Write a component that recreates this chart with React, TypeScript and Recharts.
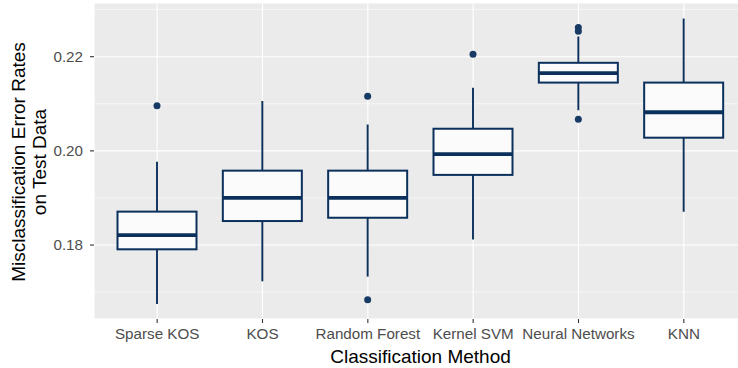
import React from 'react'
import { ComposedChart, Bar, XAxis, YAxis, CartesianGrid } from 'recharts'

// Box plot stats
const methods = ['Sparse KOS', 'KOS', 'Random Forest', 'Kernel SVM', 'Neural Networks', 'KNN']
const whiskerLow = [0.1675, 0.1723, 0.1733, 0.1812, 0.2086, 0.1871]
const q1 = [0.1791, 0.1851, 0.1858, 0.1949, 0.2145, 0.2028]
const median = [0.1821, 0.19, 0.19, 0.1993, 0.2165, 0.2082]
const q3 = [0.1871, 0.1958, 0.1958, 0.2047, 0.2187, 0.2145]
const whiskerHigh = [0.1977, 0.2106, 0.2056, 0.2134, 0.2243, 0.2281]
const outliers = [[0.2096], [], [0.2116, 0.1684], [0.2205], [0.2262, 0.2254, 0.2067], []]

const yTicks = [0.18, 0.2, 0.22]
const yMinor = [0.17, 0.19, 0.21, 0.23]

const LINE = '#0B305C'
const POINT = '#173B65'
const FONT = '"Liberation Sans", Arial, sans-serif'

const rows = methods.map((name, i) => ({
  name,
  lo: whiskerLow[i],
  q1: q1[i],
  med: median[i],
  q3: q3[i],
  hi: whiskerHigh[i],
  out: outliers[i],
}))

// draws the whole box from the [q1, q3] bar that recharts places for us
const BoxShape = (props: any) => {
  const { x, y, width, height, payload } = props
  const top = Math.min(y, y + height)
  const h = Math.abs(height)
  const k = h / (payload.q3 - payload.q1)
  const py = (v: number) => top + (payload.q3 - v) * k
  const cx = x + width / 2

  return (
    <g>
      <line x1={cx} x2={cx} y1={py(payload.hi)} y2={top} stroke={LINE} strokeWidth={1.9} />
      <line x1={cx} x2={cx} y1={top + h} y2={py(payload.lo)} stroke={LINE} strokeWidth={1.9} />
      <rect x={x} y={top} width={width} height={h} fill="#FBFBFB" stroke={LINE} strokeWidth={2} />
      <line x1={x} x2={x + width} y1={py(payload.med)} y2={py(payload.med)} stroke={LINE} strokeWidth={3.8} />
      {payload.out.map((v: number, j: number) => (
        <circle key={j} cx={cx} cy={py(v)} r={3.5} fill={POINT} />
      ))}
    </g>
  )
}

const YTitle = (props: any) => {
  const vb = props.viewBox || { y: 3, height: 316 }
  const cy = vb.y + vb.height / 2 + 1
  return (
    <g fontFamily={FONT} fontSize={19} fill="#000">
      <text x={25} y={cy} textAnchor="middle" transform={`rotate(-90, 25, ${cy})`}>
        Misclassification Error Rates
      </text>
      <text x={45.7} y={cy} textAnchor="middle" transform={`rotate(-90, 45.7, ${cy})`}>
        on Test Data
      </text>
    </g>
  )
}

const XTitle = (props: any) => {
  const vb = props.viewBox || { x: 94, width: 653 }
  return (
    <text x={vb.x + vb.width / 2} y={363.3} textAnchor="middle" fontFamily={FONT} fontSize={19} fill="#000">
      Classification Method
    </text>
  )
}

export default function App() {
  return (
    <div style={{ position: 'absolute', left: 0, top: 0, width: 738, height: 368, overflow: 'hidden', background: '#fff' }}>
      <ComposedChart width={750} height={368} data={rows} margin={{ top: 3, right: 3, bottom: 0, left: 0 }}>
        <CartesianGrid fill="#EBEBEB" stroke="#fff" strokeWidth={1.1} />
        <CartesianGrid horizontalValues={yMinor} vertical={false} stroke="#fff" strokeWidth={0.55} />
        <XAxis
          dataKey="name"
          height={49}
          padding={{ left: 10.5, right: 10.5 }}
          axisLine={false}
          tickSize={4}
          tickMargin={5}
          tickLine={{ stroke: '#333', strokeWidth: 1.1 }}
          tick={{ fill: '#4D4D4D', fontSize: 15.2, fontFamily: FONT }}
          interval={0}
          label={<XTitle />}
        />
        <YAxis
          type="number"
          width={94}
          domain={[0.1643, 0.2314]}
          allowDataOverflow
          ticks={yTicks}
          tickFormatter={(v: number) => v.toFixed(2)}
          axisLine={false}
          tickSize={4}
          tickMargin={7}
          tickLine={{ stroke: '#333', strokeWidth: 1.1 }}
          tick={{ fill: '#4D4D4D', fontSize: 15.2, fontFamily: FONT }}
          label={<YTitle />}
        />
        <Bar dataKey={(d: any) => [d.q1, d.q3]} barSize={79} shape={BoxShape} isAnimationActive={false} />
      </ComposedChart>
    </div>
  )
}
